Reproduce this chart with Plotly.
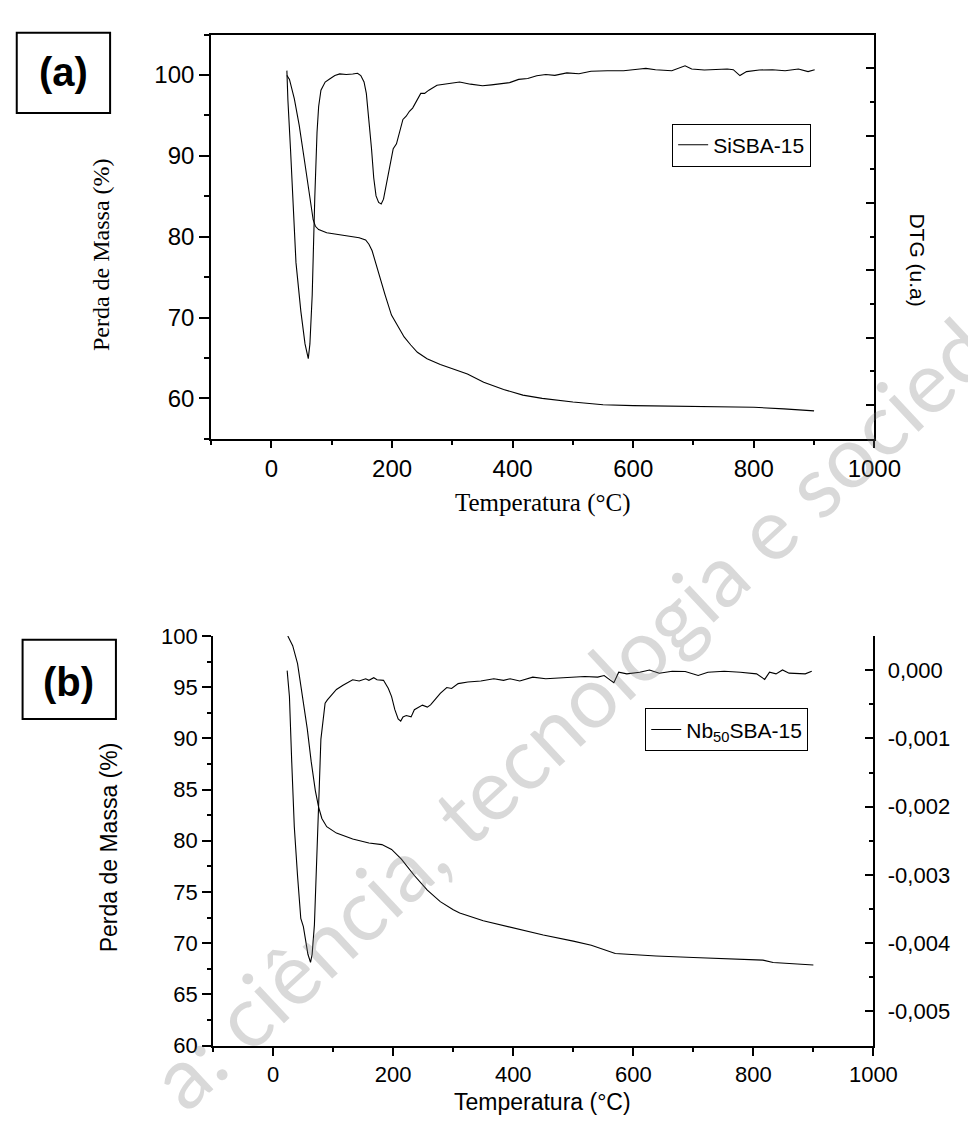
import numpy as np
import plotly.graph_objects as go

W, H = 976, 1122

# ---------------- data (a) SiSBA-15 ----------------
tg_a_T = [25.5, 29.8, 37.9, 45.9, 54.0, 62.1, 69.1, 72.8, 78.2, 91.6, 118.5, 145.4, 156.1, 161.6,
          166.9, 172.3, 180.4, 188.4, 199.0, 210.0, 220.0, 231.0, 242.0, 258.0, 280.0, 299.0, 325.0,
          352.0, 385.0, 417.0, 449.0, 500, 530, 550, 600, 650, 700, 750, 800, 850, 900]
tg_a = [99.96, 99.47, 97.05, 93.81, 89.77, 85.73, 82.10, 81.29, 80.88, 80.48, 80.16, 79.87, 79.59, 79.07,
        78.26, 76.85, 74.82, 72.80, 70.3, 68.9, 67.6, 66.6, 65.7, 64.9, 64.2, 63.7, 63.0,
        62.0, 61.1, 60.4, 60.0, 59.55, 59.3, 59.2, 59.1, 59.05, 59.0, 58.95, 58.9, 58.7, 58.45]

dtg_a_T = [25.5, 27.2, 31.5, 35.2, 40.6, 48.7, 55.6, 61.0, 63.7, 67.5, 70.2, 71.8, 75.5, 78.2, 82.0,
           89.0, 97.0, 105.1, 113.2, 123.9, 134.7, 142.7, 148.1, 153.5, 157.3, 161.6, 165.9, 169.6,
           173.4, 177.7, 182.0, 185.8, 191.1, 196.5, 201.9, 207.3, 212.6, 218.0, 223.4, 228.8, 234.1,
           239.5, 247.6, 254.0, 261.0, 274.5, 290.6, 312.1, 330, 350, 365, 380, 395, 410, 425, 440,
           455, 470, 490, 510, 530, 557, 584, 611, 621, 637, 664, 686, 697, 718, 756, 766, 777, 788,
           809, 831, 852, 874, 890, 901]
dtg_a_m = [-0.034, -0.469, -1.194, -1.918, -2.885, -3.609, -4.092, -4.310, -4.092, -3.368, -2.401,
           -1.918, -0.952, -0.566, -0.324, -0.203, -0.155, -0.107, -0.083, -0.092, -0.083, -0.073,
           -0.107, -0.203, -0.372, -0.759, -1.194, -1.628, -1.894, -1.991, -2.015, -1.942, -1.677,
           -1.435, -1.194, -1.121, -0.952, -0.759, -0.711, -0.638, -0.590, -0.493, -0.372, -0.372,
           -0.324, -0.252, -0.228, -0.203, -0.235, -0.259, -0.245, -0.225, -0.212, -0.164, -0.150,
           -0.110, -0.092, -0.104, -0.068, -0.080, -0.043, -0.035, -0.035, -0.010, 0.000, -0.020,
           -0.035, 0.038, -0.010, -0.025, -0.010, -0.020, -0.107, -0.049, -0.025, -0.020, -0.035,
           -0.010, -0.049, -0.020]

# ---------------- data (b) Nb50SBA-15 ----------------
tg_b_T = [24.4, 32.5, 40.6, 48.7, 56.8, 63.3, 70.3, 75.7, 81.1, 89.2, 105.4, 132.5, 159.5, 181.1,
          197.3, 213.6, 235.2, 256.8, 278.4, 300.0, 310.8, 350, 400, 450, 500, 530, 570, 638, 700,
          746, 800, 816, 833, 900]
tg_b = [100.0, 99.05, 97.30, 94.11, 90.93, 87.75, 84.88, 83.29, 82.18, 81.38, 80.75, 80.17, 79.79,
        79.63, 79.16, 78.20, 76.61, 75.18, 74.06, 73.27, 72.95, 72.2, 71.5, 70.8, 70.2, 69.8, 69.0,
        68.75, 68.6, 68.5, 68.4, 68.35, 68.12, 67.87]

dtg_b_T = [23.3, 27.1, 30.9, 35.2, 40.6, 46.0, 50.3, 54.1, 57.9, 62.2, 64.9, 68.7, 71.9, 74.6, 77.3,
           79.5, 82.7, 86.5, 90.3, 97.3, 105.4, 116.3, 127.1, 132.5, 143.3, 154.1, 159.5, 167.6,
           173.0, 183.8, 191.9, 197.3, 202.7, 208.2, 212.5, 216.3, 221.7, 229.8, 235.2, 243.3, 248.7,
           256.8, 262.2, 270.3, 275.7, 278.4, 289.2, 297.3, 308.2, 324.4, 346.0, 367.6, 383.8, 394.6,
           410.8, 432.5, 454.1, 475.7, 491.9, 519.0, 540.6, 551.4, 562.2, 567.6, 575.7, 589.2, 610.8,
           627.0, 643.3, 664.9, 686.5, 708.1, 724.3, 751.4, 778.4, 805.4, 818.9, 827.0, 837.8, 848.6,
           859.5, 875.7, 886.5, 897.3]
dtg_b_m = [-0.007, -0.389, -1.344, -2.299, -3.016, -3.637, -3.756, -3.971, -4.162, -4.281, -4.162,
           -3.732, -3.016, -2.299, -1.583, -1.010, -0.723, -0.485, -0.437, -0.365, -0.284, -0.222,
           -0.174, -0.141, -0.160, -0.127, -0.150, -0.112, -0.141, -0.150, -0.270, -0.389, -0.580,
           -0.714, -0.747, -0.685, -0.666, -0.685, -0.580, -0.532, -0.513, -0.542, -0.509, -0.425,
           -0.365, -0.341, -0.255, -0.270, -0.198, -0.174, -0.160, -0.127, -0.150, -0.127, -0.160,
           -0.103, -0.127, -0.112, -0.103, -0.093, -0.103, -0.079, -0.150, -0.184, -0.031, -0.055,
           -0.031, 0.002, -0.045, -0.017, -0.021, -0.079, -0.031, -0.017, -0.031, -0.055, -0.136,
           -0.031, -0.055, 0.002, -0.045, -0.045, -0.055, -0.017]

dtg_ticks = [0.0, -0.001, -0.002, -0.003, -0.004, -0.005]
dtg_ticktext = ["0,000", "-0,001", "-0,002", "-0,003", "-0,004", "-0,005"]

dtg_a = (np.array(dtg_a_m) * 1e-3).tolist()
dtg_b = (np.array(dtg_b_m) * 1e-3).tolist()


def PX(x):
    return x / W


def PY(y):
    return 1 - y / H


SANS = "Liberation Sans, Arial, sans-serif"
SERIF = "Liberation Serif, Times New Roman, serif"
LINE = dict(color="black", width=1.1)

fig = go.Figure()
fig.add_trace(go.Scatter(x=tg_a_T, y=tg_a, mode="lines", line=LINE, name="SiSBA-15",
                         xaxis="x", yaxis="y", legend="legend", showlegend=True))
fig.add_trace(go.Scatter(x=dtg_a_T, y=dtg_a, mode="lines", line=LINE, name="DTG a",
                         xaxis="x", yaxis="y2", showlegend=False))
fig.add_trace(go.Scatter(x=tg_b_T, y=tg_b, mode="lines", line=LINE, name="Nb<sub>50</sub>SBA-15",
                         xaxis="x2", yaxis="y3", legend="legend2", showlegend=True))
fig.add_trace(go.Scatter(x=dtg_b_T, y=dtg_b, mode="lines", line=LINE, name="DTG b",
                         xaxis="x2", yaxis="y4", showlegend=False))

axcommon = dict(showgrid=False, zeroline=False, showline=True, linecolor="black", linewidth=2,
                tickcolor="black", tickwidth=1.5)

xa_dom = [PX(209), PX(891)]
xb_dom = [PX(211), PX(890)]
ya_dom = [PY(428.3), PY(15)]
yb_dom = [PY(1049), PY(630)]

fig.update_layout(
    width=W, height=H, margin=dict(l=0, r=0, t=0, b=0),
    paper_bgcolor="white", plot_bgcolor="white",
    xaxis=dict(**axcommon, domain=xa_dom, anchor="y", range=[-100, 1000], dtick=200, tick0=0,
               ticks="outside", ticklen=7, mirror=True,
               minor=dict(ticks="outside", dtick=100, tick0=0, ticklen=4, tickcolor="black", tickwidth=1.5),
               tickfont=dict(family=SANS, size=24, color="black")),
    yaxis=dict(**axcommon, domain=ya_dom, anchor="x", range=[55, 105], dtick=10, tick0=0,
               ticks="outside", ticklen=10,
               minor=dict(ticks="outside", dtick=5, tick0=0, ticklen=5, tickcolor="black", tickwidth=1.5),
               tickfont=dict(family=SANS, size=24, color="black")),
    yaxis2=dict(**axcommon, overlaying="y", side="right", anchor="x", range=[-0.0055, 0.0005],
                tickvals=dtg_ticks, ticks="inside", ticklen=8, showticklabels=False,
                minor=dict(ticks="inside", dtick=0.0005, tick0=0, ticklen=4, tickcolor="black", tickwidth=1.5)),
    xaxis2=dict(**axcommon, domain=xb_dom, anchor="y3", range=[-100, 1000], dtick=200, tick0=0,
                ticks="outside", ticklen=8,
                minor=dict(ticks="outside", dtick=100, tick0=0, ticklen=4, tickcolor="black", tickwidth=1.5),
                tickfont=dict(family=SANS, size=22, color="black")),
    xaxis3=dict(**axcommon, overlaying="x2", side="top", anchor="y3", range=[-100, 1000], dtick=100,
                tick0=0, ticks="inside", ticklen=6, showticklabels=False),
    yaxis3=dict(**axcommon, domain=yb_dom, anchor="x2", range=[60, 100], dtick=5, tick0=0,
                ticks="outside", ticklen=9,
                minor=dict(ticks="outside", dtick=2.5, tick0=0, ticklen=4, tickcolor="black", tickwidth=1.5),
                tickfont=dict(family=SANS, size=22, color="black")),
    yaxis4=dict(**axcommon, overlaying="y3", side="right", anchor="x2", range=[-0.0055, 0.0005],
                tickvals=dtg_ticks, ticktext=dtg_ticktext, ticks="inside", ticklen=8,
                ticklabelstandoff=8,
                minor=dict(ticks="inside", dtick=0.0005, tick0=0, ticklen=4, tickcolor="black", tickwidth=1.5),
                tickfont=dict(family=SANS, size=22, color="black")),
    legend=dict(x=PX(826), y=PY(106), xanchor="right", yanchor="top", bordercolor="black",
                borderwidth=1, bgcolor="rgba(255,255,255,0)", font=dict(family=SANS, size=21, color="black"),
                tracegroupgap=0, itemwidth=30),
    legend2=dict(x=PX(823), y=PY(704), xanchor="right", yanchor="top", bordercolor="black",
                 borderwidth=1, bgcolor="rgba(255,255,255,0)", font=dict(family=SANS, size=21, color="black"),
                 tracegroupgap=0, itemwidth=30),
)

ann = [
    dict(text="<b>(a)</b>", x=PX(57), y=PY(53), font=dict(family=SANS, size=40, color="black")),
    dict(text="<b>(b)</b>", x=PX(62.5), y=PY(677), font=dict(family=SANS, size=40, color="black")),
    dict(text="DTG (u.a)", x=PX(935), y=PY(245), textangle=90, font=dict(family=SANS, size=21, color="black")),
    dict(text="Perda de Massa (%)", x=PX(95), y=PY(240), textangle=-90, font=dict(family=SERIF, size=24, color="black")),
    dict(text="Temperatura (°C)", x=PX(550), y=PY(494), font=dict(family=SERIF, size=25, color="black")),
    dict(text="Perda de Massa (%)", x=PX(104), y=PY(846), textangle=-90, font=dict(family=SANS, size=23, color="black")),
    dict(text="Temperatura (°C)", x=PX(550), y=PY(1107), font=dict(family=SANS, size=23, color="black")),
    dict(text="a: ciência, tecnologia e sociedade", x=PX(628), y=PY(660), textangle=-43,
         font=dict(family="Lato, Open Sans, sans-serif", size=86, color="rgba(120,120,120,0.28)")),
]
for a in ann:
    a.update(xref="paper", yref="paper", showarrow=False, xanchor="center", yanchor="middle")
fig.update_layout(annotations=ann)

fig.update_layout(shapes=[
    dict(type="rect", xref="paper", yref="paper", x0=PX(9), x1=PX(105), y0=PY(95), y1=PY(13),
         line=dict(color="black", width=2)),
    dict(type="rect", xref="paper", yref="paper", x0=PX(15), x1=PX(111), y0=PY(715), y1=PY(634),
         line=dict(color="black", width=2)),
])

fig.write_html("out.html")
